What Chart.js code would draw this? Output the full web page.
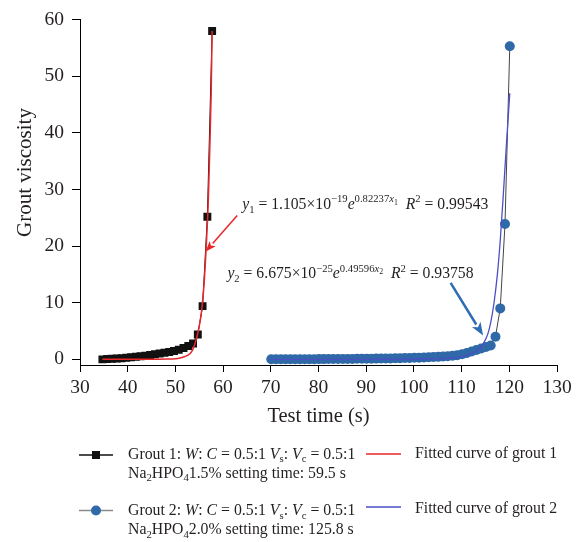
<!DOCTYPE html>
<html><head><meta charset="utf-8">
<script src="https://cdn.jsdelivr.net/npm/chart.js@4/dist/chart.umd.min.js"></script>
<style>html,body{margin:0;padding:0;background:#fff;}#wrap{position:relative;width:579px;height:542px;}</style>
</head><body><div id="wrap"><canvas id="c" width="579" height="542"></canvas></div>
<script>
// ---- data ----
const grout1Time = [34.7,35.7,36.7,37.7,38.7,39.7,40.7,41.7,42.7,43.7,44.7,45.7,46.7,47.7,48.7,49.7,50.7,51.7,52.7,53.7,54.7,55.7,56.7,57.7];
const grout1Viscosity = [0.00,0.05,0.10,0.15,0.20,0.28,0.36,0.45,0.55,0.66,0.78,0.90,1.02,1.15,1.30,1.48,1.70,2.00,2.35,2.80,4.4,9.4,25.2,58.0];
const grout2Time = [70.1,71.1,72.1,73.1,74.1,75.1,76.1,77.1,78.1,79.1,80.1,81.1,82.1,83.1,84.1,85.1,86.1,87.1,88.1,89.1,90.1,91.1,92.1,93.1,94.1,95.1,96.1,97.1,98.1,99.1,100.1,101.1,102.1,103.1,104.1,105.1,106.1,107.1,108.1,109.1,110.1,111.1,112.1,113.1,114.1,115.1,116.1,117.1,118.1,119.1,120.1];
const grout2Viscosity = [0.00,0.00,0.00,0.00,0.01,0.01,0.02,0.02,0.03,0.03,0.04,0.04,0.05,0.05,0.06,0.07,0.07,0.08,0.09,0.10,0.11,0.12,0.13,0.14,0.15,0.17,0.19,0.21,0.23,0.25,0.27,0.30,0.33,0.36,0.40,0.44,0.49,0.55,0.63,0.74,0.90,1.12,1.38,1.65,1.92,2.18,2.45,4.0,9.0,23.9,55.3];
const fit1Time = [34.7,40,45,48,50,51,52,53,53.5,54,54.5,55,55.5,56,56.5,56.9,57.2,57.5,57.7];
const fit1Value = [0,0,0.01,0.04,0.12,0.25,0.5,0.95,1.5,2.5,3.9,5.9,8.6,13.2,20.5,28,37,47,58];
const fit2Time = [70,80,90,100,105,108,110,111,112,113,114,114.7,115.5,116.1,116.8,117.5,118.1,118.7,119.4,120.1];
const fit2Value = [0,0,0.01,0.05,0.13,0.28,0.45,0.65,1.0,1.45,2.1,3.0,4.5,6.5,10,15,21,28.5,38,47];
const xTicks = [30,40,50,60,70,80,90,100,110,120,130];
const yTicks = [0,10,20,30,40,50,60];

const FONT = '"Liberation Serif", "DejaVu Serif", serif';
const RED = '#e8262a', BLUE_FIT = '#4b4fc4', BLUE_PT = '#2f69a7', BLUE_ARROW = '#2e6db4';
const pts = (xs, ys) => xs.map((x, i) => ({x, y: ys[i]}));

Chart.defaults.font.family = FONT;
Chart.defaults.color = '#231f20';

// rich text helpers
const N = t => ({t}), I = t => ({t, i: true}), SUB = t => ({t, v: 'sub'}), SUP = t => ({t, v: 'sup'}),
      ISUP = t => ({t, i: true, v: 'sup'}), SUPSUB = t => ({t, v: 'supsub'});
function rich(ctx, x, y, segs, size) {
  let cx = x;
  ctx.textBaseline = 'alphabetic'; ctx.textAlign = 'left';
  for (const s of segs) {
    let fs = size, dy = 0;
    if (s.v === 'sub') { fs = size * 0.68; dy = size * 0.24; }
    else if (s.v === 'sup') { fs = size * 0.68; dy = -size * 0.40; }
    else if (s.v === 'supsub') { fs = size * 0.5; dy = -size * 0.22; }
    ctx.font = (s.i ? 'italic ' : '') + fs + 'px ' + FONT;
    ctx.fillText(s.t, cx, y + dy);
    cx += ctx.measureText(s.t).width;
  }
  return cx;
}
function arrow(ctx, x1, y1, x2, y2, color, lw, hl, hw) {
  const a = Math.atan2(y2 - y1, x2 - x1);
  const bx = x2 - hl * Math.cos(a), by = y2 - hl * Math.sin(a);
  ctx.save();
  ctx.strokeStyle = color; ctx.fillStyle = color; ctx.lineWidth = lw;
  ctx.beginPath(); ctx.moveTo(x1, y1); ctx.lineTo(bx, by); ctx.stroke();
  ctx.beginPath(); ctx.moveTo(x2, y2);
  ctx.lineTo(bx + hw / 2 * Math.sin(a), by - hw / 2 * Math.cos(a));
  ctx.lineTo(bx + hl * 0.25 * Math.cos(a), by + hl * 0.25 * Math.sin(a));
  ctx.lineTo(bx - hw / 2 * Math.sin(a), by + hw / 2 * Math.cos(a));
  ctx.closePath(); ctx.fill();
  ctx.restore();
}

const decor = {
  id: 'decor',
  afterDraw(chart) {
    const ctx = chart.ctx, xs = chart.scales.x, ys = chart.scales.y;
    const P = (x, y) => [xs.getPixelForValue(x), ys.getPixelForValue(y)];
    ctx.save();
    ctx.fillStyle = '#231f20';
    // axis titles
    ctx.font = '20.5px ' + FONT; ctx.textAlign = 'center'; ctx.textBaseline = 'alphabetic';
    ctx.fillText('Test time (s)', (chart.chartArea.left + chart.chartArea.right) / 2, 422);
    ctx.save(); ctx.translate(31, 172.5); ctx.rotate(-Math.PI / 2);
    ctx.font = '21px ' + FONT; ctx.fillText('Grout viscosity', 0, 0); ctx.restore();
    // equations
    let p = P(64.0, 26.6);
    rich(ctx, p[0], p[1], [I('y'), SUB('1'), N(' = 1.105×10'), SUP('−19'), I('e'), SUP('0.82237'), ISUP('x'), SUPSUB('1'), N('  '), I('R'), SUP('2'), N(' = 0.99543')], 15.7);
    p = P(60.9, 14.4);
    rich(ctx, p[0], p[1], [I('y'), SUB('2'), N(' = 6.675×10'), SUP('−25'), I('e'), SUP('0.49596'), ISUP('x'), SUPSUB('2'), N('  '), I('R'), SUP('2'), N(' = 0.93758')], 15.7);
    let a = P(62.96, 25.4), b = P(56.3, 19.0);
    arrow(ctx, a[0], a[1], b[0], b[1], RED, 1.5, 11, 8);
    a = P(107.7, 13.5); b = P(114.5, 4.2);
    arrow(ctx, a[0], a[1], b[0], b[1], BLUE_ARROW, 2.5, 13, 10);
    // legend
    ctx.lineWidth = 1.3;
    ctx.strokeStyle = '#111'; ctx.beginPath(); ctx.moveTo(79, 455); ctx.lineTo(113, 455); ctx.stroke();
    ctx.fillStyle = '#111'; ctx.fillRect(92, 451, 8, 8);
    ctx.strokeStyle = '#8a8a8a'; ctx.beginPath(); ctx.moveTo(79, 510.5); ctx.lineTo(113, 510.5); ctx.stroke();
    ctx.fillStyle = BLUE_PT; ctx.beginPath(); ctx.arc(96, 510.5, 5, 0, Math.PI * 2); ctx.fill();
    ctx.strokeStyle = RED; ctx.beginPath(); ctx.moveTo(366, 454); ctx.lineTo(401, 454); ctx.stroke();
    ctx.strokeStyle = BLUE_FIT; ctx.beginPath(); ctx.moveTo(366, 507); ctx.lineTo(401, 507); ctx.stroke();
    ctx.fillStyle = '#231f20';
    const LS = 15.8;
    rich(ctx, 128, 458.5, [N('Grout 1: '), I('W'), N(': '), I('C'), N(' = 0.5:1 '), I('V'), SUB('s'), N(': '), I('V'), SUB('c'), N(' = 0.5:1')], LS);
    rich(ctx, 128, 477.5, [N('Na'), SUB('2'), N('HPO'), SUB('4'), N('1.5% setting time: 59.5 s')], LS);
    rich(ctx, 128, 515, [N('Grout 2: '), I('W'), N(': '), I('C'), N(' = 0.5:1 '), I('V'), SUB('s'), N(': '), I('V'), SUB('c'), N(' = 0.5:1')], LS);
    rich(ctx, 128, 534, [N('Na'), SUB('2'), N('HPO'), SUB('4'), N('2.0% setting time: 125.8 s')], LS);
    rich(ctx, 415, 457.5, [N('Fitted curve of grout 1')], LS);
    rich(ctx, 415, 512.5, [N('Fitted curve of grout 2')], LS);
    ctx.restore();
  }
};

const axisCommon = {
  type: 'linear',
  grid: { display: true, drawOnChartArea: false, drawTicks: true, tickLength: 8, color: '#000', lineWidth: 1 },
  border: { display: true, color: '#000', width: 1 },
  ticks: { font: { size: 19.5, family: FONT }, color: '#231f20', autoSkip: false, maxRotation: 0 }
};

new Chart(document.getElementById('c'), {
  type: 'line',
  data: {
    datasets: [
      { label: 'Grout 1', data: pts(grout1Time, grout1Viscosity), borderColor: '#111', backgroundColor: '#111',
        borderWidth: 1, pointStyle: 'rect', pointRadius: 5.6, pointBorderWidth: 0, tension: 0, order: 2 },
      { label: 'Grout 2', data: pts(grout2Time, grout2Viscosity), borderColor: '#444', backgroundColor: BLUE_PT,
        pointBorderColor: BLUE_PT, borderWidth: 1, pointStyle: 'circle', pointRadius: 5, pointBorderWidth: 0, tension: 0, order: 2 },
      { label: 'Fitted curve of grout 1', data: pts(fit1Time, fit1Value), borderColor: RED, borderWidth: 1.5,
        pointRadius: 0, cubicInterpolationMode: 'monotone', order: 1 },
      { label: 'Fitted curve of grout 2', data: pts(fit2Time, fit2Value), borderColor: BLUE_FIT, borderWidth: 1.3,
        pointRadius: 0, cubicInterpolationMode: 'monotone', order: 1 }
    ]
  },
  options: {
    responsive: false, animation: false, devicePixelRatio: 1,
    layout: { padding: { left: 0, right: 22, top: 15, bottom: 115 } },
    plugins: { legend: { display: false }, tooltip: { enabled: false } },
    scales: {
      x: Object.assign({}, axisCommon, { min: 30, max: 130,
        grid: Object.assign({}, axisCommon.grid, { tickLength: 7 }),
        ticks: Object.assign({}, axisCommon.ticks, { padding: 4 }),
        afterBuildTicks: s => { s.ticks = xTicks.map(v => ({ value: v })); },
        afterFit: s => { s.height = 62; } }),
      y: Object.assign({}, axisCommon, { min: -1, max: 60,
        ticks: Object.assign({}, axisCommon.ticks, { padding: 8 }),
        afterBuildTicks: s => { s.ticks = yTicks.map(v => ({ value: v })); },
        afterFit: s => { s.width = 80; } })
    }
  },
  plugins: [decor]
});
</script></body></html>
